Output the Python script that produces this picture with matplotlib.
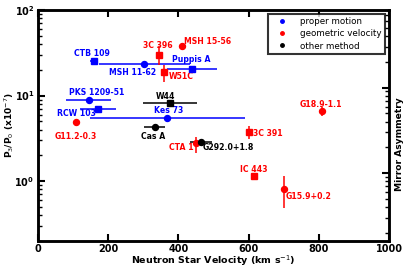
import matplotlib
matplotlib.use("Agg")
import matplotlib.pyplot as plt
from matplotlib.lines import Line2D
import numpy as np

# ---- data ----
names = ["CTB 109", "MSH 11-62", "Puppis A", "3C 396", "MSH 15-56", "W51C",
         "PKS 1209-51", "RCW 103", "G11.2-0.3", "W44", "Kes 73", "Cas A",
         "CTA 1", "G292.0+1.8", "3C 391", "IC 443", "G15.9+0.2", "G18.9-1.1"]
velocity = [159, 303, 438, 345, 410, 360, 144, 171, 109, 376, 368, 332,
            451, 464, 601, 615, 700, 810]
vel_err = [10, 130, 71, 0, 0, 0, 65, 50, 0, 78, 221, 30,
           0, 32, 0, 0, 0, 0]
ratio = [25.7, 23.1, 20.6, 30.0, 37.8, 18.8, 8.96, 7.03, 4.87, 8.26, 5.47, 4.26,
         2.83, 2.90, 3.76, 1.14, 0.82, 6.55]
ratio_err_lo = [0, 0, 0, 7.5, 3.0, 4.4, 0, 0, 0, 0, 0, 0,
                0.67, 0, 0.61, 0, 0.34, 0.85]
ratio_err_hi = [0, 0, 0, 8.4, 3.0, 4.2, 0, 0, 0, 0, 0, 0,
                0.45, 0, 0.61, 0, 0.32, 0.8]
method = ["proper", "proper", "proper", "geometric", "geometric", "geometric",
          "proper", "proper", "geometric", "other", "proper", "other",
          "geometric", "other", "geometric", "geometric", "geometric", "geometric"]
shape = ["s", "o", "s", "s", "o", "s", "o", "s", "o", "s", "o", "o",
         "o", "o", "s", "s", "o", "o"]
method_labels = {"proper": "proper motion", "geometric": "geometric velocity",
                 "other": "other method"}

# ---- style / layout ----
colors = {"proper": "#0000ff", "geometric": "#ff0000", "other": "black"}
label_offsets = {  # pixel offsets of label centre from point
    "CTB 109": (-2, 7.5), "MSH 11-62": (-12, -7.7), "Puppis A": (0, 9.3),
    "3C 396": (-1.5, 9.3), "MSH 15-56": (26, 4.7), "W51C": (17, -4.6),
    "PKS 1209-51": (8, 7.6), "RCW 103": (-21.7, -4.4), "G11.2-0.3": (-1, -14),
    "W44": (-4, 6.6), "Kes 73": (1, 7.7), "Cas A": (-1, -9),
    "CTA 1": (-14.6, -5), "G292.0+1.8": (27.6, -6), "3C 391": (19.3, -1.6),
    "IC 443": (0, 6.7), "G15.9+0.2": (25.3, -7.7), "G18.9-1.1": (-1, 7),
}

plt.rcParams['font.family'] = ['DejaVu Sans']
fig = plt.figure(figsize=(4.07, 2.72), dpi=100)
ax = fig.add_axes([38 / 407, 1 - 241 / 272, (389 - 38) / 407, (241 - 10) / 272])

for i, n in enumerate(names):
    c = colors[method[i]]
    xe = vel_err[i] if vel_err[i] > 0 else None
    ye = None
    if ratio_err_lo[i] > 0 or ratio_err_hi[i] > 0:
        ye = [[ratio_err_lo[i]], [ratio_err_hi[i]]]
    ax.errorbar([velocity[i]], [ratio[i]], xerr=xe, yerr=ye, fmt=shape[i],
                color=c, ms=4.3, elinewidth=1.1, capsize=0, zorder=3)
    dx, dy = label_offsets[n]
    ax.annotate(n, (velocity[i], ratio[i]), xytext=(dx, dy),
                textcoords='offset pixels', ha='center', va='center',
                fontsize=5.6, fontweight='bold', color=c)

ax.set_yscale('log')
ax.set_xlim(0, 1000)
ax.set_ylim(0.2, 100)
ax.set_xticks([0, 200, 400, 600, 800, 1000])
for lab in ax.get_xticklabels() + ax.get_yticklabels():
    lab.set_fontweight('bold')
ax.tick_params(axis='both', which='major', direction='in', length=5, width=1.5,
               labelsize=7, top=True, right=False, pad=2.5)
ax.tick_params(axis='both', which='minor', direction='in', length=3, width=1.0,
               top=False, right=False)
ax.xaxis.set_tick_params(which='minor', bottom=False)
for sp in ax.spines.values():
    sp.set_linewidth(1.8)

ax.set_xlabel("Neutron Star Velocity (km s$^{-1}$)", fontsize=6.8, fontweight='bold')
ax.xaxis.set_label_coords(0.5, -0.055)
ax.set_ylabel("P$_3$/P$_0$ (x10$^{-7}$)", fontsize=6.5, fontweight='bold')
ax.yaxis.set_label_coords(-0.062, 0.5)

ax2 = ax.twinx()
ax2.set_yscale('log')
ax2.set_ylim(0.2 * 0.806, 100 * 0.806)
ax2.tick_params(axis='y', which='both', direction='in', labelright=False)
ax2.tick_params(axis='y', which='major', length=5, width=1.5)
ax2.tick_params(axis='y', which='minor', length=3, width=1.0)
ax2.set_ylabel("Mirror Asymmetry", fontsize=6.6, fontweight='bold')
ax2.yaxis.set_label_coords(1.018, 0.42)
for sp in ax2.spines.values():
    sp.set_linewidth(1.8)

handles = [Line2D([], [], ls='none', marker='o', ms=2.5, color=colors[k],
                  label=method_labels[k]) for k in ["proper", "geometric", "other"]]
leg = ax2.legend(handles=handles, loc='upper right', fontsize=6.3, frameon=True,
                 fancybox=False, handlelength=2.5, borderpad=0.4,
                 labelspacing=0.35, borderaxespad=0,
                 bbox_to_anchor=(0.989, 0.983))
leg.get_frame().set_edgecolor('black')
leg.get_frame().set_linewidth(1.5)

fig.savefig("out.png", dpi=100)
